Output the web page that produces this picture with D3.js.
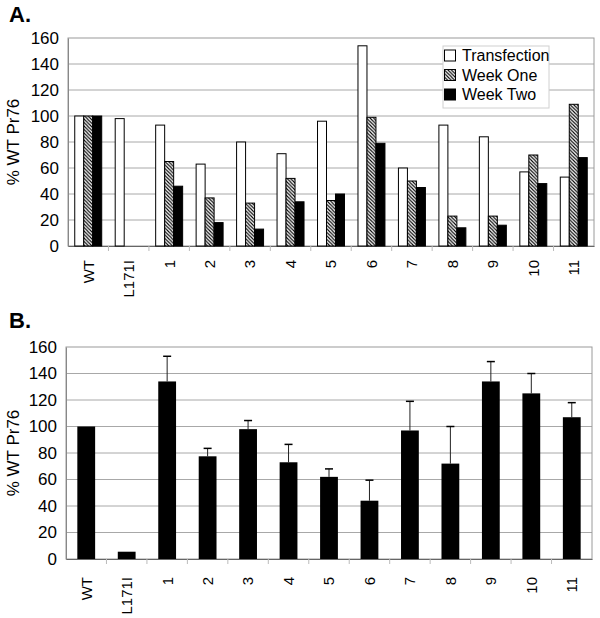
<!DOCTYPE html>
<html><head><meta charset="utf-8">
<script src="https://cdn.jsdelivr.net/npm/d3@7"></script>
<style>body{margin:0;background:#fff}svg{display:block}text{font-family:"Liberation Sans",Arial,sans-serif;fill:#000}</style>
</head><body>
<script>
const categories = ["WT","L171I","1","2","3","4","5","6","7","8","9","10","11"];
const seriesNames = ["Transfection","Week One","Week Two"];
const transfection = [100,98,93,63,80,71,96,154,60,93,84,57,53];
const weekOne      = [100,0,65,37,33,52,35,99,50,23,23,70,109];
const weekTwo      = [100,0,46,18,13,34,40,79,45,14,16,48,68];
const panelB       = [100,5.5,134,77.5,98,73,62,44,97,72,134,125,107];
const panelBErr    = [null,null,153,83.5,104.5,86.5,68,59.5,119,100,149,140,118];
const yTicks = [0,20,40,60,80,100,120,140,160];

const W=600,H=618;
const svg=d3.select("body").append("svg").attr("width",W).attr("height",H);
const defs=svg.append("defs");
const pat=defs.append("pattern").attr("id","hatch").attr("patternUnits","userSpaceOnUse")
  .attr("width",3.5).attr("height",3.5);
pat.append("rect").attr("width",3.5).attr("height",3.5).attr("fill","#fff");
pat.append("path").attr("d","M-1,-1 L4.5,4.5 M-1,2.5 L1,4.5 M2.5,-1 L4.5,1")
  .attr("stroke","#000").attr("stroke-width",1.1);

function panel(o){
  const g=svg.append("g");
  const x=d3.scaleBand().domain(categories).range([o.x0,o.x1]);
  const y=d3.scaleLinear().domain([0,160]).range([o.y1,o.y0]);
  // gridlines
  g.selectAll(".grid").data(yTicks.filter(d=>d>0&&d<160)).join("line")
    .attr("x1",o.x0).attr("x2",o.x1).attr("y1",d=>y(d)).attr("y2",d=>y(d))
    .attr("stroke","#a8a8a8").attr("stroke-width",1);
  // frame
  g.append("rect").attr("x",o.x0).attr("y",o.y0).attr("width",o.x1-o.x0).attr("height",o.y1-o.y0)
    .attr("fill","none").attr("stroke","#9a9a9a").attr("stroke-width",1);
  // y axis
  const ya=g.append("g").attr("transform",`translate(${o.x0},0)`)
    .call(d3.axisLeft(y).tickValues(yTicks).tickSize(0).tickPadding(9));
  ya.select(".domain").attr("stroke","#888");
  ya.selectAll("text").style("font-size","17px").attr("font-family","Liberation Sans, Arial");
  // x axis
  const xa=g.append("g").attr("transform",`translate(0,${o.y1})`)
    .call(d3.axisBottom(x).tickSize(0).tickPadding(0));
  xa.select(".domain").attr("stroke","#666");
  xa.selectAll("text").style("font-size","15px").attr("font-family","Liberation Sans, Arial")
    .attr("text-anchor","end").attr("transform",`translate(0,${o.labelOff}) rotate(-90)`)
    .attr("y",0).attr("x",0).attr("dy","0.36em");
  // separator ticks
  g.selectAll(".sep").data(categories.slice(1)).join("line")
    .attr("x1",d=>x(d)).attr("x2",d=>x(d)).attr("y1",o.y1).attr("y2",o.y1+5)
    .attr("stroke","#bbb");
  // y title
  svg.append("text").attr("transform",`translate(${o.titleX},${(o.y0+o.y1)/2}) rotate(-90)`)
    .attr("text-anchor","middle").style("font-size","17px").text("% WT Pr76");
  return {g,x,y};
}

// Panel A
svg.append("text").attr("x",9).attr("y",22).style("font-size","22px").style("font-weight","bold").text("A.");
const A=panel({x0:68,x1:594,y0:38,y1:246,labelOff:14,titleX:19});
const inner=d3.scaleBand().domain(seriesNames).range([0,A.x.bandwidth()*2/3]);
const seriesVals=[transfection,weekOne,weekTwo];
const fills=["#fff","url(#hatch)","#000"];
seriesNames.forEach((s,si)=>{
  A.g.append("g").selectAll("rect").data(categories.map((c,i)=>({c,v:seriesVals[si][i]})).filter(d=>d.v>0))
   .join("rect")
   .attr("x",d=>A.x(d.c)+A.x.bandwidth()/6+inner(s)).attr("width",inner.bandwidth())
   .attr("y",d=>A.y(d.v)).attr("height",d=>A.y(0)-A.y(d.v))
   .attr("fill",fills[si]).attr("stroke","#000").attr("stroke-width",1);
});
// legend
const lg=svg.append("g");
lg.append("rect").attr("x",443).attr("y",46).attr("width",106).attr("height",62)
  .attr("fill","#fff").attr("stroke","#d0d0d0");
seriesNames.forEach((s,i)=>{
  lg.append("rect").attr("x",444.5).attr("y",50+i*19.5).attr("width",11).attr("height",11)
    .attr("fill",fills[i]).attr("stroke","#000");
  lg.append("text").attr("x",462).attr("y",61+i*19.5).style("font-size","16px").text(s);
});

// Panel B
svg.append("text").attr("x",9).attr("y",328).style("font-size","22px").style("font-weight","bold").text("B.");
const B=panel({x0:66,x1:592,y0:347,y1:559,labelOff:18,titleX:19});
const bw=B.x.bandwidth()*0.44;
const bd=categories.map((c,i)=>({c,v:panelB[i],e:panelBErr[i]}));
B.g.append("g").selectAll("line").data(bd.filter(d=>d.e!=null)).join("line")
  .attr("x1",d=>B.x(d.c)+B.x.bandwidth()/2).attr("x2",d=>B.x(d.c)+B.x.bandwidth()/2)
  .attr("y1",d=>B.y(d.v)).attr("y2",d=>B.y(d.e)).attr("stroke","#222");
B.g.append("g").selectAll("line").data(bd.filter(d=>d.e!=null)).join("line")
  .attr("x1",d=>B.x(d.c)+B.x.bandwidth()/2-4).attr("x2",d=>B.x(d.c)+B.x.bandwidth()/2+4)
  .attr("y1",d=>B.y(d.e)).attr("y2",d=>B.y(d.e)).attr("stroke","#000").attr("stroke-width",1.5);
B.g.append("g").selectAll("rect").data(bd).join("rect")
  .attr("x",d=>B.x(d.c)+(B.x.bandwidth()-bw)/2).attr("width",bw)
  .attr("y",d=>B.y(d.v)).attr("height",d=>B.y(0)-B.y(d.v)).attr("fill","#000");
</script>
</body></html>
